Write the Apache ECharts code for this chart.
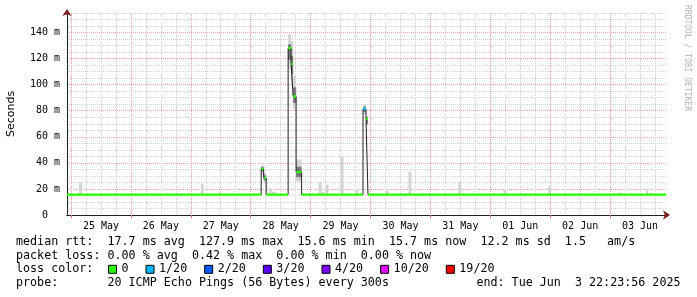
<!DOCTYPE html>
<html><head><meta charset="utf-8">
<script src="https://cdn.jsdelivr.net/npm/echarts@6/dist/echarts.min.js"></script>
<style>html,body{margin:0;padding:0;background:#fff}#c{width:697px;height:297px}</style>
</head><body><div id="c"></div>
<script>
// x values: hours since 25 May 2025 00:00
const xStart = -1.6, xEnd = 238.4;
const dayLabels = ['25 May','26 May','27 May','28 May','29 May','30 May','31 May','01 Jun','02 Jun','03 Jun'];
const yTicks = [0, 20, 40, 60, 80, 100, 120, 140];
const yMax = 155;

// median rtt (ms), step changes
const medianT = [-1.6, 76.2, 77.2, 78.2, 87.0, 88.2, 89.0, 90.2, 92.4, 117.0, 118.2, 119.0];
const medianV = [15.7, 35.5, 28.5, 15.7, 128, 116, 91, 33, 15.7, 81.5, 73.5, 15.7];
const medianLoss = [0, 0, 0, 0, 0, 0, 0, 0, 0, 1, 0, 0];

const lossNames = ['0', '1/20', '2/20', '3/20', '4/20', '10/20', '19/20'];
const lossColors = ['#26ff00', '#00b8ff', '#0059ff', '#5e00ff', '#7e00ff', '#dd00ff', '#ff0000'];

// smoke bands [t0, t1, low, high]
const smokeOuter = [
  [3.2, 4.4, 15.7, 24.6], [32.0, 33.2, 15.7, 17.0], [52.0, 53.2, 15.7, 24.0], [59.2, 60.0, 15.7, 18.0],
  [76.2, 77.2, 31.0, 38.2], [77.2, 78.2, 24.6, 32.3],
  [79.2, 80.4, 15.7, 20.5], [80.4, 82.0, 15.7, 18.0],
  [87.0, 88.2, 111.8, 138.7], [88.2, 89.0, 99.0, 133.5], [89.0, 90.2, 81.0, 106.6], [90.2, 92.4, 25.8, 42.5],
  [99.2, 100.4, 15.7, 25.4], [100.4, 101.6, 15.7, 17.5], [102.0, 103.2, 15.7, 23.3], [108.0, 109.2, 15.7, 44.3],
  [114.0, 115.2, 15.7, 18.7], [117.0, 118.2, 77.0, 84.8], [118.2, 119.0, 68.2, 75.8],
  [126.0, 127.2, 15.7, 18.7], [135.2, 136.4, 15.7, 32.8], [140.0, 141.2, 15.7, 17.0],
  [155.2, 156.4, 15.7, 25.4], [156.8, 157.6, 15.7, 17.0], [173.2, 174.4, 15.7, 19.5],
  [191.2, 192.4, 15.7, 21.8], [219.2, 221.2, 15.7, 17.0], [230.4, 231.2, 15.7, 19.0], [232.0, 233.2, 15.7, 17.0]
];
const smokeInner = [
  [76.2, 77.2, 33.5, 37.0], [77.2, 78.2, 26.5, 30.5],
  [87.0, 88.2, 119.0, 131.0], [88.2, 89.0, 108.0, 122.0], [89.0, 90.2, 86.0, 98.0], [90.2, 92.4, 29.0, 37.0],
  [117.0, 118.2, 79.0, 83.0], [118.2, 119.0, 70.0, 75.0]
];

const statLines = [
  'median rtt:  17.7 ms avg  127.9 ms max  15.6 ms min  15.7 ms now  12.2 ms sd  1.5   am/s',
  'packet loss: 0.00 % avg  0.42 % max  0.00 % min  0.00 % now',
  'loss color:',
  'probe:       20 ICMP Echo Pings (56 Bytes) every 300s'
];
const endText = 'end: Tue Jun  3 22:23:56 2025';

// ---- build ----
const dayTicks = dayLabels.map((_, i) => i * 24);
const labelPos = dayLabels.map((_, i) => i * 24 + 12);
const sixHour = [];
for (let i = 0; i < dayLabels.length * 4; i++) sixHour.push(i * 6);

const stepData = medianT.map((t, i) => [t, medianV[i]]);
stepData.push([xEnd, medianV[medianV.length - 1]]);

const segData = lossNames.map(() => []);
medianT.forEach((t, i) => {
  const t1 = i + 1 < medianT.length ? medianT[i + 1] : xEnd;
  const d = segData[medianLoss[i]];
  d.push([t, medianV[i]], [t1, medianV[i]], [t1, '-']);
});

function smokeItem(params, api) {
  const p0 = api.coord([api.value(0), api.value(3)]);
  const p1 = api.coord([api.value(1), api.value(2)]);
  return { type: 'rect', shape: { x: p0[0], y: p0[1], width: p1[0] - p0[0], height: p1[1] - p0[1] },
           style: { fill: api.visual('color') } };
}

const mono = 'DejaVu Sans Mono';
const minorGrid = { color: '#d2d2d2', type: [1, 1], width: 1 };
const majorGrid = { color: '#eda3a3', type: [1, 1], width: 1 };

const series = [
  { type: 'custom', name: 'smokeOuter', xAxisIndex: 1, yAxisIndex: 1, renderItem: smokeItem,
    encode: { x: [0, 1], y: [2, 3] }, itemStyle: { color: '#d4d4d4' }, data: smokeOuter, z: 2, silent: true },
  { type: 'custom', name: 'smokeInner', xAxisIndex: 1, yAxisIndex: 1, renderItem: smokeItem,
    encode: { x: [0, 1], y: [2, 3] }, itemStyle: { color: '#7a7a7a' }, data: smokeInner, z: 3, silent: true },
  { type: 'line', name: 'median', xAxisIndex: 1, yAxisIndex: 1, step: 'end', data: stepData,
    showSymbol: false, symbol: 'none', lineStyle: { color: '#202020', width: 1 }, z: 4, silent: true }
];
lossNames.forEach((n, i) => {
  series.push({ type: 'line', name: n, xAxisIndex: 1, yAxisIndex: 1, data: segData[i],
    showSymbol: false, symbol: 'none', connectNulls: false,
    itemStyle: { color: lossColors[i] }, lineStyle: { color: lossColors[i], width: 2.2, cap: 'butt' }, z: 5, silent: true });
});

const graphics = statLines.map((s, i) => ({
  type: 'text', x: 16, y: [242, 255.7, 269.3, 283][i],
  style: { text: s, font: '11.7px "DejaVu Sans Mono"', fill: '#000', verticalAlign: 'middle', align: 'left' }
}));
graphics.push({ type: 'text', x: 680.5, y: 283,
  style: { text: endText, font: '11.7px "DejaVu Sans Mono"', fill: '#000', verticalAlign: 'middle', align: 'right' } });
graphics.push({ type: 'text', x: 687, y: 5, rotation: -Math.PI / 2,
  style: { text: 'RRDTOOL / TOBI OETIKER', font: '8px "DejaVu Sans Mono"', fill: '#b4b4b4', verticalAlign: 'middle', align: 'left' } });

const option = {
  animation: false,
  backgroundColor: '#ffffff',
  grid: { left: 67, right: 31, top: 13, bottom: 82, containLabel: false, outerBoundsMode: 'none' },
  xAxis: [
    { type: 'value', min: xStart, max: xEnd, position: 'bottom',
      axisLine: { show: true, onZero: false, lineStyle: { color: '#801f1f' }, symbol: ['none', 'arrow'], symbolSize: [7, 7], symbolOffset: [0, 4] },
      axisTick: { show: false, customValues: sixHour }, axisLabel: { show: false },
      splitLine: { show: true, lineStyle: minorGrid } },
    { type: 'value', min: xStart, max: xEnd, position: 'bottom',
      axisLine: { show: true, onZero: false, lineStyle: { color: '#1f1f1f' } },
      axisTick: { show: true, customValues: dayTicks, length: 3, lineStyle: { color: '#e07070' } },
      axisLabel: { customValues: labelPos, margin: 6, fontFamily: mono, fontSize: 10, color: '#000',
        formatter: v => dayLabels[Math.round((v - 12) / 24)] },
      splitLine: { show: true, lineStyle: majorGrid } }
  ],
  yAxis: [
    { type: 'value', min: 0, max: yMax, interval: 5, position: 'left',
      axisLine: { show: true, onZero: false, lineStyle: { color: '#801f1f' }, symbol: ['none', 'arrow'], symbolSize: [7, 7], symbolOffset: [0, 4] },
      axisTick: { show: false }, axisLabel: { show: false },
      splitLine: { show: true, lineStyle: minorGrid } },
    { type: 'value', min: 0, max: yMax, position: 'left',
      name: 'Seconds', nameLocation: 'middle', nameGap: 50,
      nameTextStyle: { fontFamily: 'DejaVu Sans', fontSize: 11, color: '#000' },
      axisLine: { show: true, onZero: false, lineStyle: { color: '#1f1f1f' } },
      axisTick: { show: false, customValues: yTicks },
      axisLabel: { customValues: yTicks, margin: 7, fontFamily: mono, fontSize: 10, color: '#000',
        formatter: v => v === 0 ? '0  ' : v + ' m' },
      splitLine: { show: true, lineStyle: majorGrid } }
  ],
  legend: { left: 108, top: 262.3, padding: 0, itemWidth: 8, itemHeight: 8, itemGap: 17, icon: 'rect',
    selectedMode: false, itemStyle: { borderColor: '#000', borderWidth: 1 },
    textStyle: { fontFamily: mono, fontSize: 11.7, color: '#000', lineHeight: 14 }, data: lossNames },
  graphic: graphics,
  series: series
};
const chart = echarts.init(document.getElementById('c'));
chart.setOption(option);
</script></body></html>
